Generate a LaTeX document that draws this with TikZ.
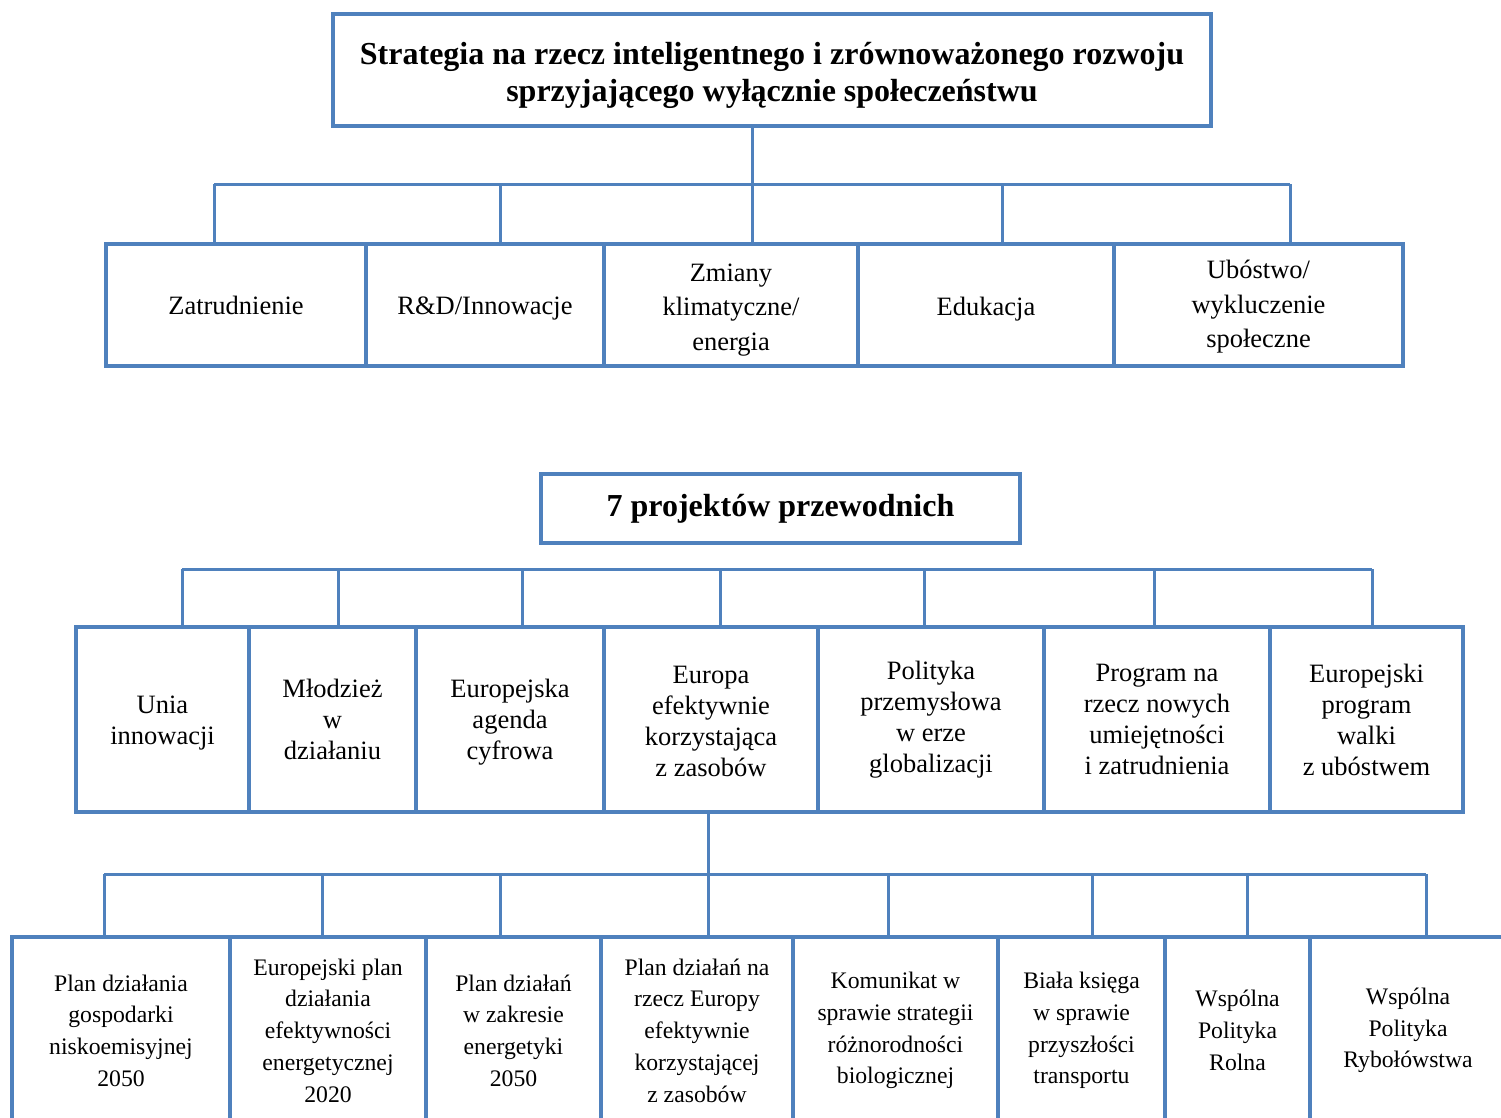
\documentclass[tikz,border=0pt]{standalone}
\usepackage{fontspec}
\setmainfont{Liberation Serif}
\definecolor{boxblue}{HTML}{4F81BD}

\begin{document}
\begin{tikzpicture}
[x=1pt,y=-1pt,%
  box/.style={draw=boxblue,line width=4.5pt,align=center,inner sep=0pt},%
  link/.style={draw=boxblue,line width=3pt},%
  head/.style={font=\fontsize{32}{37}\selectfont\bfseries},%
  lvl/.style={font=\fontsize{26.5}{34.5}\selectfont},%
  flag/.style={font=\fontsize{26.5}{31}\selectfont},%
  sub/.style={font=\fontsize{23.7}{31.7}\selectfont}]
\useasboundingbox (0,0) rectangle (1501,1117);
\clip (0,0) rectangle (1501,1117);
\node[box,head,minimum width=878,minimum height=112] (strat) at (772,70) {};
\node[head,align=center,yshift=-5pt] at (strat)
  {Strategia na rzecz inteligentnego i zrównoważonego rozwoju\\sprzyjającego wyłącznie społeczeństwu};
\node[box,lvl,minimum width=260,minimum height=122] (zat) at (236,305) {Zatrudnienie};
\node[box,lvl,minimum width=238,minimum height=122] (rd) at (485,305) {};
\node[lvl,yshift=-4pt] at (rd) {R\&D/Innowacje};
\node[box,lvl,minimum width=254,minimum height=122] (klim) at (731,305) {};
\node[lvl,align=center,yshift=-5pt] at (klim) {Zmiany\\klimatyczne/\\energia};
\node[box,lvl,minimum width=256,minimum height=122] (edu) at (986,305) {};
\node[lvl,yshift=-4pt] at (edu) {Edukacja};
\node[box,lvl,minimum width=289,minimum height=122] (ubo) at (1258.5,305) {};
\node[lvl,align=center,yshift=-2pt] at (ubo) {Ubóstwo/\\wykluczenie\\społeczne};
\node[box,head,minimum width=479,minimum height=69] (proj) at (780.5,508.5) {7 projektów przewodnich};
\node[box,flag,minimum width=173,minimum height=185] (unia) at (162.5,719.5) {};
\node[flag,align=center,yshift=-4pt] at (unia) {Unia\\innowacji};
\node[box,flag,minimum width=167,minimum height=185] (mlod) at (332.5,719.5) {Młodzież\\w\\działaniu};
\node[box,flag,minimum width=188,minimum height=185] (agenda) at (510,719.5) {};
\node[flag,align=center,yshift=-3pt] at (agenda) {Europejska\\agenda\\cyfrowa};
\node[box,flag,minimum width=214,minimum height=185] (zasoby) at (711,719.5) {};
\node[flag,align=center,yshift=-2pt] at (zasoby) {Europa\\efektywnie\\korzystająca\\z zasobów};
\node[box,flag,minimum width=226,minimum height=185] (przem) at (931,719.5) {Polityka\\przemysłowa\\w erze\\globalizacji};
\node[box,flag,minimum width=226,minimum height=185] (umiej) at (1157,719.5) {Program na\\rzecz nowych\\umiejętności\\i zatrudnienia};
\node[box,flag,minimum width=193,minimum height=185] (walka) at (1366.5,719.5) {Europejski\\program\\walki\\z ubóstwem};
\node[box,sub,minimum width=218,minimum height=187] (nisko) at (121,1030.5) {Plan działania\\gospodarki\\niskoemisyjnej\\2050};
\node[box,sub,minimum width=196,minimum height=187] (efen) at (328,1030.5) {Europejski plan\\działania\\efektywności\\energetycznej\\2020};
\node[box,sub,minimum width=175,minimum height=187] (energ) at (513.5,1030.5) {Plan działań\\w zakresie\\energetyki\\2050};
\node[box,sub,minimum width=192,minimum height=187] (plzas) at (697,1030.5) {Plan działań na\\rzecz Europy\\efektywnie\\korzystającej\\z zasobów};
\node[box,sub,minimum width=205,minimum height=187] (bio) at (895.5,1030.5) {Komunikat w\\sprawie strategii\\różnorodności\\biologicznej};
\node[box,sub,minimum width=167,minimum height=187] (trans) at (1081.5,1030.5) {Biała księga\\w sprawie\\przyszłości\\transportu};
\node[box,sub,minimum width=145,minimum height=187] (rolna) at (1237.5,1030.5) {Wspólna\\Polityka\\Rolna};
\node[box,sub,minimum width=196,minimum height=187] (ryb) at (1408,1030.5) {Wspólna\\Polityka\\Rybołówstwa};
\coordinate (busA) at (752,184);
\coordinate (busB) at (708,874);
\draw[link] (busA |- strat.south) -- (busA);
\draw[link] (214,184) -- (1290,184);
\foreach \x/\n in {214/zat,500/rd,752/klim,1002/edu,1290/ubo}
  \draw[link] (\x,184) -- (\x,184 |- \n.north);
\draw[link] (182,569) -- (1372,569);
\foreach \x/\n in {182/unia,338/mlod,522/agenda,720/zasoby,924/przem,1154/umiej,1372/walka}
  \draw[link] (\x,569) -- (\x,569 |- \n.north);
\draw[link] (busB |- zasoby.south) -- (busB);
\draw[link] (104,874) -- (1426,874);
\foreach \x/\n in {104/nisko,322/efen,500/energ,708/plzas,888/bio,1092/trans,1247/rolna,1426/ryb}
  \draw[link] (\x,874) -- (\x,874 |- \n.north);
\end{tikzpicture}
\end{document}
